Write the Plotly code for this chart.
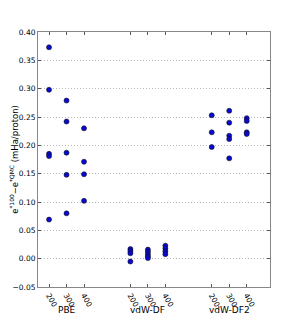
import plotly.graph_objects as go

groups = ["PBE", "vdW-DF", "vdW-DF2"]
cutoffs = [200, 300, 400]
tick_labels = ["200", "300", "400"]

pbe_200 = [0.373, 0.298, 0.185, 0.181, 0.069]
pbe_300 = [0.279, 0.242, 0.187, 0.148, 0.080]
pbe_400 = [0.230, 0.171, 0.149, 0.102]
vdw_200 = [0.017, 0.0135, 0.0095, -0.005]
vdw_300 = [0.016, 0.012, 0.008, 0.004, 0.001]
vdw_400 = [0.023, 0.018, 0.013, 0.008]
df2_200 = [0.253, 0.223, 0.197]
df2_300 = [0.261, 0.240, 0.217, 0.211, 0.177]
df2_400 = [0.248, 0.243, 0.223, 0.220]

values = {
    "PBE": [pbe_200, pbe_300, pbe_400],
    "vdW-DF": [vdw_200, vdw_300, vdw_400],
    "vdW-DF2": [df2_200, df2_300, df2_400],
}

GROUP_SHIFT = 4.65
def pos(gi, ci):
    return 2 + ci + gi * GROUP_SHIFT

fig = go.Figure()
xs, ys = [], []
for gi, g in enumerate(groups):
    for ci, c in enumerate(cutoffs):
        for v in values[g][ci]:
            xs.append(pos(gi, ci))
            ys.append(v)

fig.add_trace(go.Scatter(
    x=xs, y=ys, mode="markers",
    marker=dict(color="#0808d8", size=5, line=dict(color="#111", width=0.6)),
    showlegend=False, hoverinfo="skip"))

tickvals, ticktext = [], []
for gi in range(len(groups)):
    for ci in range(len(cutoffs)):
        tickvals.append(pos(gi, ci))
        ticktext.append(tick_labels[ci])

for gi, g in enumerate(groups):
    fig.add_annotation(x=pos(gi, 1), y=0, xref="x", yref="paper", yshift=-23,
                       text=g, showarrow=False, yanchor="middle",
                       font=dict(family="DejaVu Sans", size=9, color="black"))

# page body has an 8px default margin, so the figure is shrunk by 8px
fig.update_layout(
    width=292, height=312,
    margin=dict(l=30, r=30, t=24, b=33),
    plot_bgcolor="white", paper_bgcolor="white",
    font=dict(family="DejaVu Sans", size=8, color="black"),
)
fig.update_xaxes(
    range=[2 - 0.63, pos(2, 2) + 1.33], automargin=False,
    tickmode="array", tickvals=tickvals, ticktext=ticktext, tickangle=60,
    ticks="inside", ticklen=3, tickcolor="#555", mirror="ticks",
    showline=True, linecolor="#888", linewidth=1, showgrid=False, zeroline=False,
    tickfont=dict(size=7.5),
)
fig.update_yaxes(
    range=[-0.05, 0.40], dtick=0.05, tickformat=".2f", automargin=False,
    ticks="inside", ticklen=3, tickcolor="#555", mirror="ticks",
    showline=True, linecolor="#888", linewidth=1,
    showgrid=True, gridcolor="#b8b8b8", griddash="1px,2px", gridwidth=0.8,
    zeroline=False,
    title=dict(text="e<sup>*100</sup>−e<sup>*QMC</sup> (mHa/proton)", standoff=3,
               font=dict(size=8.5)),
    tickfont=dict(size=7.5),
)

fig.write_html("out.html")
